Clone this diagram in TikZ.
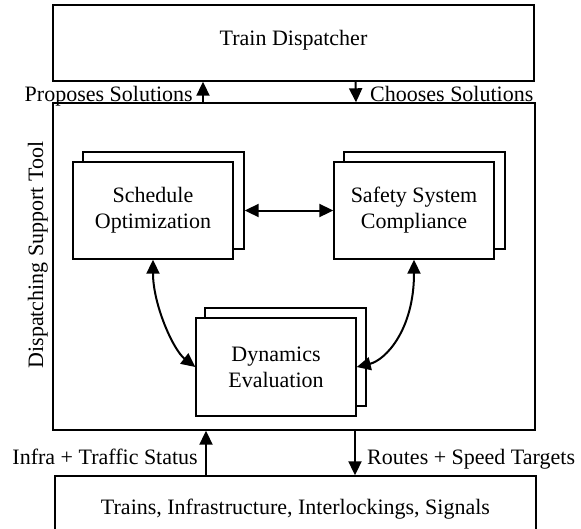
\documentclass[tikz,border=0pt]{standalone}
\usepackage{fontspec}
\setmainfont{Liberation Serif}
\usetikzlibrary{arrows.meta}
\begin{document}
\begin{tikzpicture}[x=1pt,y=-1pt,
  every node/.style={font=\fontsize{22}{26}\selectfont, inner sep=0pt},
  box/.style={draw, line width=1.4pt, fill=white},
  inner/.style={box, minimum width=160pt, minimum height=97pt, align=center},
  tip/.style={},
  arr/.style={line width=2pt, -{Triangle[length=14pt,width=13pt]}},
  darr/.style={line width=2pt, {Triangle[length=14pt,width=13pt]}-{Triangle[length=14pt,width=13pt]}}]
\useasboundingbox (0,0) rectangle (581,528);
\clip (0,0) rectangle (581,528);
% outer boxes
\node[box, minimum width=481pt, minimum height=76pt] (disp) at (293.5,43) {};
\node[anchor=base] (dispt) at (293.5,45) {Train Dispatcher};
\node[box, minimum width=482pt, minimum height=327pt] (dst) at (294,266.5) {};
\node[rotate=90, anchor=base] (dstl) at (43,255) {Dispatching Support Tool};
\node[box, minimum width=481pt, minimum height=64pt] (plant) at (295.5,508) {};
\node[anchor=base] (plantt) at (295.5,514) {Trains, Infrastructure, Interlockings, Signals};
% inner stacked boxes
\node[inner, minimum width=161pt] (schedB) at (163.5,200.5) {};
\node[inner] (sched) at (153,210.5) {Schedule\\Optimization};
\node[inner, minimum width=161pt] (safeB) at (424.5,200.5) {};
\node[inner] (safe) at (414,210.5) {Safety System\\Compliance};
\node[inner, minimum width=161pt, minimum height=98pt] (dynB) at (285.5,357) {};
\node[inner, minimum height=98pt] (dyn) at (276,367) {Dynamics\\Evaluation};
% external arrows
\draw[arr] ([xshift=-91pt]dst.north) -- ([xshift=-90.5pt]disp.south);
\draw[arr] ([xshift=62pt]disp.south) -- ([xshift=62pt]dst.north);
\draw[arr] ([xshift=-89.5pt]plant.north) -- ([xshift=-88pt]dst.south);
\draw[arr] ([xshift=61pt]dst.south) -- ([xshift=59.5pt]plant.north);
\node[anchor=base east] (prop) at (193,101) {Proposes Solutions};
\node[anchor=base west] (choose) at (370,101) {Chooses Solutions};
\node[anchor=base east] (infra) at (198,464) {Infra + Traffic Status};
\node[anchor=base west] (routes) at (367,464) {Routes + Speed Targets};
% internal arrows
\draw[darr] (schedB.east |- sched.east) -- (safe.west);
\draw[darr] (sched.south) .. controls +(0,45) and +(-22,-17) .. (dyn.west);
\draw[darr] (safe.south) .. controls +(0,70) and +(29,-7) .. (dyn.east);
\end{tikzpicture}
\end{document}
